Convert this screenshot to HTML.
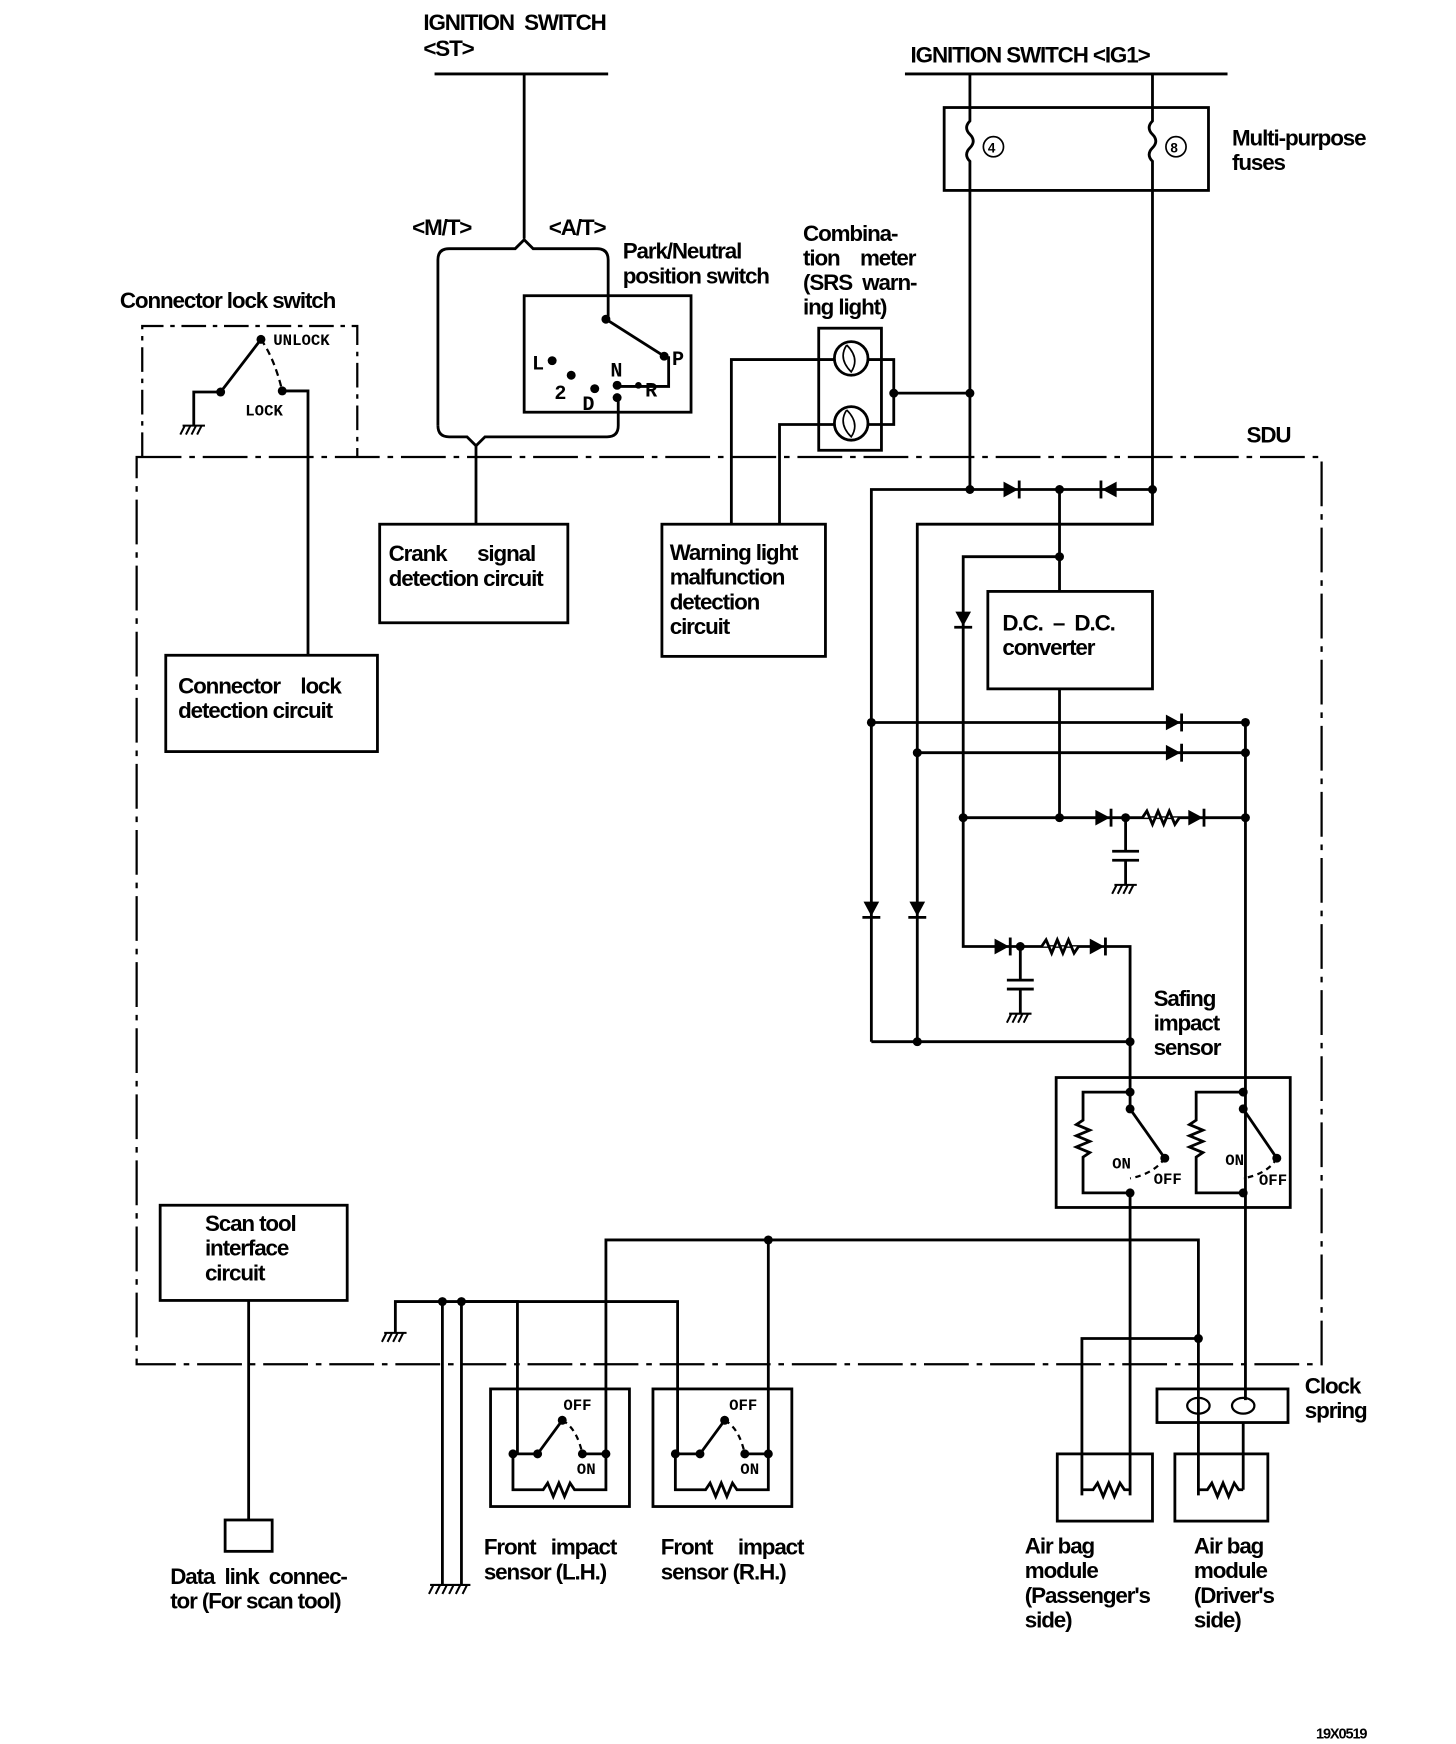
<!DOCTYPE html>
<html><head><meta charset="utf-8"><style>
html,body{margin:0;padding:0;background:#fff}
svg{display:block}
text{font-family:"Liberation Sans",sans-serif;font-size:20px;font-weight:bold;fill:#000;letter-spacing:-1px;white-space:pre}
.m{font-family:"Liberation Mono",monospace;font-size:14px;letter-spacing:0;font-weight:bold}
</style></head><body>
<svg width="1456" height="1744" viewBox="0 0 1300 1557" preserveAspectRatio="none" xmlns="http://www.w3.org/2000/svg" xml:space="preserve">
<defs>
<g id="dr"><polygon points="-7,-7 -7,7 6,0" fill="#000"/><line x1="7" y1="-8" x2="7" y2="8" stroke="#000" stroke-width="2.5"/></g>
<g id="dd"><polygon points="-7,-7 7,-7 0,6" fill="#000"/><line x1="-8" y1="7" x2="8" y2="7" stroke="#000" stroke-width="2.5"/></g>
<g id="gnd"><line x1="-10" y1="0" x2="10" y2="0"/><line x1="-8" y1="0" x2="-12" y2="8"/><line x1="-3" y1="0" x2="-7" y2="8"/><line x1="2" y1="0" x2="-2" y2="8"/><line x1="7" y1="0" x2="3" y2="8"/></g>
</defs>
<g fill="none" stroke="#000" stroke-width="2.5">
<line x1="388" y1="66" x2="543" y2="66"/><line x1="468" y1="66" x2="468" y2="213"/>
<path d="M391,380 V232 Q391,222 401,222 H460 L468,214 L476,222 H533 Q543,222 543,232 V285"/>
<path d="M391,380 Q391,390 401,390 H417 L425,398 L433,390 H542 Q552,390 552,380 V355"/>
<line x1="425" y1="398" x2="425" y2="468"/>
<rect x="468" y="264" width="149" height="104"/>
<line x1="541" y1="285" x2="593" y2="318"/>
<path d="M597,318 V345 H551"/>
<path d="M127,408 V291 H319 V408" stroke-dasharray="22,6,4,6" stroke-width="2"/>
<path d="M173,380 V350 H197 L233,303"/>
<path d="M233,303 Q245,320 252,349" stroke-dasharray="6,4" stroke-width="2"/>
<path d="M252,349 H275 V585"/>
<rect x="122" y="408" width="1058" height="810" stroke-dasharray="40,7,5,7" stroke-width="2"/>
<rect x="339" y="468" width="168" height="88"/>
<rect x="591" y="468" width="146" height="118"/>
<rect x="148" y="585" width="189" height="86"/>
<path d="M653,468 V321 H745"/><path d="M696,468 V379 H745"/>
<rect x="731" y="293" width="56" height="109"/>
<circle cx="760" cy="320" r="15"/><circle cx="760" cy="378" r="15"/>
<path d="M756,308 q-8,12 4,24 q8,-12 -4,-24 M756,366 q-8,12 4,24 q8,-12 -4,-24" stroke-width="1.5"/>
<path d="M775,321 H798 V379 H775"/><line x1="798" y1="351" x2="866" y2="351"/>
<line x1="808" y1="66" x2="1096" y2="66"/>
<rect x="843" y="96" width="236" height="74"/>
<path d="M866,66 V108 q-6,6 0,12 q6,6 0,12 q-6,6 0,12 V437"/>
<path d="M1029,66 V108 q-6,6 0,12 q6,6 0,12 q-6,6 0,12 V468 H819 V930"/>
<circle cx="887" cy="131" r="9" stroke-width="1.5"/><circle cx="1050" cy="131" r="9" stroke-width="1.5"/>
<path d="M778,930 V437 H1029"/>
<path d="M946,437 V528"/><path d="M946,497 H860 V845 H1009 V930"/>
<rect x="882" y="528" width="147" height="87"/>
<path d="M946,615 V730"/>
<path d="M778,645 H1112 V1250"/><path d="M819,672 H1112"/><path d="M860,730 H1112"/>
<path d="M1020,730 l4,-6 l5,12 l5,-12 l5,12 l5,-12 l5,12 l4,-6" fill="#fff"/>
<path d="M930,845 l4,-6 l5,12 l5,-12 l5,12 l5,-12 l5,12 l4,-6" fill="#fff"/>
<path d="M1005,730 V760 M993,760 H1017 M993,768 H1017 M1005,768 V790"/>
<path d="M911,845 V875 M899,875 H923 M899,883 H923 M911,883 V905"/>
<path d="M778,930 H1009 V990"/>
<rect x="943" y="962" width="209" height="116"/>
<path d="M1009,990 L1040,1034"/><path d="M1110,990 L1140,1034"/>
<path d="M1009,975 H967 V1000 l-6,4 l12,5 l-12,5 l12,5 l-12,5 l12,5 l-6,4 V1065 H1009 V1335"/>
<path d="M1110,975 H1068 V1000 l-6,4 l12,5 l-12,5 l12,5 l-12,5 l12,5 l-6,4 V1065 H1110"/>
<path d="M1040,1034 Q1030,1048 1009,1052" stroke-dasharray="5,4" stroke-width="2"/>
<path d="M1140,1034 Q1132,1048 1110,1052" stroke-dasharray="5,4" stroke-width="2"/>
<path d="M541,1298 V1107 H1070 V1335"/><path d="M686,1107 V1298"/>
<path d="M966,1335 V1195 H1070"/>
<rect x="1033" y="1240" width="117" height="30"/>
<line x1="1110" y1="1270" x2="1110" y2="1330"/>
<rect x="944" y="1298" width="85" height="60"/><rect x="1049" y="1298" width="83" height="60"/>
<path d="M966,1330 H976 l4,-6 l5,12 l5,-12 l5,12 l5,-12 l4,6 H1009"/>
<path d="M1070,1330 H1078 l4,-6 l5,12 l5,-12 l5,12 l5,-12 l4,6 H1110"/>
<ellipse cx="1070" cy="1255" rx="10" ry="7" stroke-width="2"/><ellipse cx="1110" cy="1255" rx="10" ry="7" stroke-width="2"/>
<rect x="143" y="1076" width="167" height="85"/>
<line x1="222" y1="1161" x2="222" y2="1357"/>
<rect x="201" y="1357" width="42" height="28"/>
<path d="M353,1190 V1162 H462 V1298"/><path d="M412,1162 H605 V1298"/>
<line x1="395" y1="1162" x2="395" y2="1415"/><line x1="412" y1="1162" x2="412" y2="1415"/>
<rect x="438" y="1240" width="124" height="105"/><rect x="583" y="1240" width="124" height="105"/>
<path d="M458,1298 H480 L502,1268 M520,1298 H541 M458,1298 V1330 H485 l4,-6 l5,12 l5,-12 l5,12 l5,-12 l4,6 H541 V1298"/>
<path d="M603,1298 H625 L647,1268 M665,1298 H686 M603,1298 V1330 H630 l4,-6 l5,12 l5,-12 l5,12 l5,-12 l4,6 H686 V1298"/>
<path d="M502,1268 Q515,1275 520,1298 M647,1268 Q660,1275 665,1298" stroke-dasharray="5,4" stroke-width="2"/>
</g>
<g stroke="#000" stroke-width="1.8" fill="none">
<use href="#gnd" x="173" y="380"/><use href="#gnd" x="1005" y="790"/><use href="#gnd" x="911" y="905"/><use href="#gnd" x="353" y="1190"/>
<path d="M384,1415 H420 M387,1415 l-4,8 M393,1415 l-4,8 M399,1415 l-4,8 M405,1415 l-4,8 M411,1415 l-4,8 M417,1415 l-4,8"/>
</g>
<use href="#dr" x="903" y="437"/><use href="#dr" x="990" y="437" transform="rotate(180 990 437)"/>
<use href="#dd" x="860" y="553"/><use href="#dd" x="778" y="812"/><use href="#dd" x="819" y="812"/>
<use href="#dr" x="1048" y="645"/><use href="#dr" x="1048" y="672"/>
<use href="#dr" x="985" y="730"/><use href="#dr" x="1068" y="730"/>
<use href="#dr" x="895" y="845"/><use href="#dr" x="980" y="845"/>
<g fill="#000">
<circle cx="541" cy="285" r="4"/><circle cx="593" cy="318" r="4"/><circle cx="493" cy="322" r="4"/><circle cx="510" cy="335" r="4"/><circle cx="531" cy="347" r="4"/><circle cx="551" cy="344" r="4"/><circle cx="551" cy="355" r="4"/><circle cx="570" cy="344" r="3"/>
<circle cx="197" cy="350" r="4"/><circle cx="233" cy="303" r="4"/><circle cx="252" cy="349" r="4"/>
<circle cx="798" cy="351" r="4"/><circle cx="866" cy="351" r="4"/><circle cx="866" cy="437" r="4"/><circle cx="1029" cy="437" r="4"/><circle cx="946" cy="437" r="4"/><circle cx="946" cy="497" r="4"/>
<circle cx="778" cy="645" r="4"/><circle cx="1112" cy="645" r="4"/><circle cx="819" cy="672" r="4"/><circle cx="1112" cy="672" r="4"/><circle cx="860" cy="730" r="4"/><circle cx="946" cy="730" r="4"/><circle cx="1112" cy="730" r="4"/><circle cx="1005" cy="730" r="4"/><circle cx="911" cy="845" r="4"/>
<circle cx="819" cy="930" r="4"/><circle cx="1009" cy="930" r="4"/><circle cx="1009" cy="975" r="4"/><circle cx="1009" cy="990" r="4"/><circle cx="1040" cy="1034" r="4"/><circle cx="1009" cy="1065" r="4"/><circle cx="1110" cy="975" r="4"/><circle cx="1110" cy="990" r="4"/><circle cx="1140" cy="1034" r="4"/><circle cx="1110" cy="1065" r="4"/>
<circle cx="686" cy="1107" r="4"/><circle cx="1070" cy="1195" r="4"/>
<circle cx="395" cy="1162" r="4"/><circle cx="412" cy="1162" r="4"/>
<circle cx="458" cy="1298" r="4"/><circle cx="480" cy="1298" r="4"/><circle cx="502" cy="1268" r="4"/><circle cx="520" cy="1298" r="4"/><circle cx="541" cy="1298" r="4"/>
<circle cx="603" cy="1298" r="4"/><circle cx="625" cy="1298" r="4"/><circle cx="647" cy="1268" r="4"/><circle cx="665" cy="1298" r="4"/><circle cx="686" cy="1298" r="4"/>
</g>
<text x="378" y="27">IGNITION  SWITCH</text><text x="378" y="50">&lt;ST&gt;</text>
<text x="368" y="210">&lt;M/T&gt;</text><text x="490" y="210">&lt;A/T&gt;</text>
<text x="556" y="231">Park/Neutral</text><text x="556" y="253">position switch</text>
<text class="m" x="475" y="330" style="font-size:18px">L</text><text class="m" x="495" y="356" style="font-size:18px">2</text><text class="m" x="520" y="366" style="font-size:18px">D</text><text class="m" x="545" y="336" style="font-size:18px">N</text><text class="m" x="576" y="354" style="font-size:18px">R</text><text class="m" x="600" y="326" style="font-size:18px">P</text>
<text x="107" y="275">Connector lock switch</text>
<text class="m" x="244" y="308">UNLOCK</text><text class="m" x="219" y="371">LOCK</text>
<text x="717" y="215">Combina-</text><text x="717" y="237">tion    meter</text><text x="717" y="259">(SRS  warn-</text><text x="717" y="281">ing light)</text>
<text x="813" y="56">IGNITION SWITCH &lt;IG1&gt;</text>
<text x="1100" y="130">Multi-purpose</text><text x="1100" y="152">fuses</text>
<text x="882" y="136" style="font-size:12px;letter-spacing:0">4</text><text x="1045" y="136" style="font-size:12px;letter-spacing:0">8</text>
<text x="1113" y="395">SDU</text>
<text x="347" y="501">Crank      signal</text><text x="347" y="523">detection circuit</text>
<text x="598" y="500">Warning light</text><text x="598" y="522">malfunction</text><text x="598" y="544">detection</text><text x="598" y="566">circuit</text>
<text x="159" y="619">Connector    lock</text><text x="159" y="641">detection circuit</text>
<text x="895" y="563">D.C.  –  D.C.</text><text x="895" y="585">converter</text>
<text x="1030" y="898">Safing</text><text x="1030" y="920">impact</text><text x="1030" y="942">sensor</text>
<text class="m" x="993" y="1043">ON</text><text class="m" x="1030" y="1057">OFF</text><text class="m" x="1094" y="1040">ON</text><text class="m" x="1124" y="1058">OFF</text>
<text x="183" y="1099">Scan tool</text><text x="183" y="1121">interface</text><text x="183" y="1143">circuit</text>
<text class="m" x="503" y="1259">OFF</text><text class="m" x="515" y="1316">ON</text><text class="m" x="651" y="1259">OFF</text><text class="m" x="661" y="1316">ON</text>
<text x="1165" y="1244">Clock</text><text x="1165" y="1266">spring</text>
<text x="152" y="1414">Data  link  connec-</text><text x="152" y="1436">tor (For scan tool)</text>
<text x="432" y="1388">Front   impact</text><text x="432" y="1410">sensor (L.H.)</text>
<text x="590" y="1388">Front     impact</text><text x="590" y="1410">sensor (R.H.)</text>
<text x="915" y="1387">Air bag</text><text x="915" y="1409">module</text><text x="915" y="1431">(Passenger's</text><text x="915" y="1453">side)</text>
<text x="1066" y="1387">Air bag</text><text x="1066" y="1409">module</text><text x="1066" y="1431">(Driver's</text><text x="1066" y="1453">side)</text>
<text x="1175" y="1552" style="font-size:13px">19X0519</text>
</svg>
</body></html>
